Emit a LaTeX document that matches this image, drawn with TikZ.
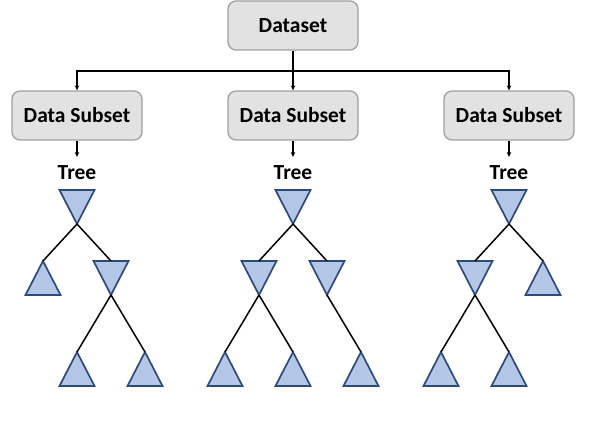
\documentclass[tikz,border=0pt]{standalone}
\usepackage{fontspec}
\setmainfont{Carlito}
\usetikzlibrary{shapes.geometric,arrows.meta}
\definecolor{boxfill}{HTML}{E2E2E2}
\definecolor{boxline}{HTML}{A0A0A0}
\definecolor{trifill}{HTML}{B4C7E7}
\definecolor{triline}{HTML}{2F4A78}
\tikzset{
  databox/.style={draw=boxline, fill=boxfill, line width=1.3pt, rounded corners=8pt, minimum width=130pt, minimum height=49pt, font=\fontsize{21.5}{26}\selectfont\bfseries},
  treelabel/.style={font=\fontsize{21.5}{26}\selectfont\bfseries, inner sep=0pt, outer sep=9pt},
  splitnode/.style={isosceles triangle, isosceles triangle stretches, shape border rotate=270, draw=triline, fill=trifill, line width=1.7pt, minimum width=35pt, minimum height=34pt, inner sep=0pt, outer sep=0pt, anchor=north},
  leafnode/.style={splitnode, shape border rotate=90},
  treeline/.style={line width=1.5pt}
}
\begin{document}
\begin{tikzpicture}[x=1pt, y=-1pt, >={Stealth[length=5pt,width=4.5pt]}, line width=1.4pt]
\useasboundingbox (0,0) rectangle (592,422);

\node[databox] (data) at (293,25.5) {Dataset};
\node[databox] (sub1) at (77,115.5) {Data Subset};
\node[databox] (sub2) at (293,115.5) {Data Subset};
\node[databox] (sub3) at (509,115.5) {Data Subset};

\coordinate (split) at (293,71);
\draw (data) -- (split);
\draw[->] (split) -| (sub1);
\draw[->] (split) -- (sub2);
\draw[->] (split) -| (sub3);

\node[treelabel] (tree1) at (77,173) {Tree};
\node[treelabel] (tree2) at (293,173) {Tree};
\node[treelabel] (tree3) at (509,173) {Tree};

\draw[->] (sub1) -- (tree1);
\draw[->] (sub2) -- (tree2);
\draw[->] (sub3) -- (tree3);

% first tree
\node[splitnode] (t1root) at (77,190) {};
\node[leafnode] (t1l) at (43,261) {};
\node[splitnode] (t1r) at (111,261) {};
\node[leafnode] (t1rl) at (77,352) {};
\node[leafnode] (t1rr) at (145,352) {};
\draw[treeline] (t1root.south) -- (t1l.north);
\draw[treeline] (t1root.south) -- (t1r.north);
\draw[treeline] (t1r.south) -- (t1rl.north);
\draw[treeline] (t1r.south) -- (t1rr.north);

% second tree
\node[splitnode] (t2root) at (293,190) {};
\node[splitnode] (t2l) at (259,261) {};
\node[splitnode] (t2r) at (327,261) {};
\node[leafnode] (t2ll) at (225,352) {};
\node[leafnode] (t2lr) at (293,352) {};
\node[leafnode] (t2rr) at (361,352) {};
\draw[treeline] (t2root.south) -- (t2l.north);
\draw[treeline] (t2root.south) -- (t2r.north);
\draw[treeline] (t2l.south) -- (t2ll.north);
\draw[treeline] (t2l.south) -- (t2lr.north);
\draw[treeline] (t2r.south) -- (t2rr.north);

% third tree
\node[splitnode] (t3root) at (509,190) {};
\node[splitnode] (t3l) at (475,261) {};
\node[leafnode] (t3r) at (543,261) {};
\node[leafnode] (t3ll) at (441,352) {};
\node[leafnode] (t3lr) at (509,352) {};
\draw[treeline] (t3root.south) -- (t3l.north);
\draw[treeline] (t3root.south) -- (t3r.north);
\draw[treeline] (t3l.south) -- (t3ll.north);
\draw[treeline] (t3l.south) -- (t3lr.north);
\end{tikzpicture}
\end{document}
